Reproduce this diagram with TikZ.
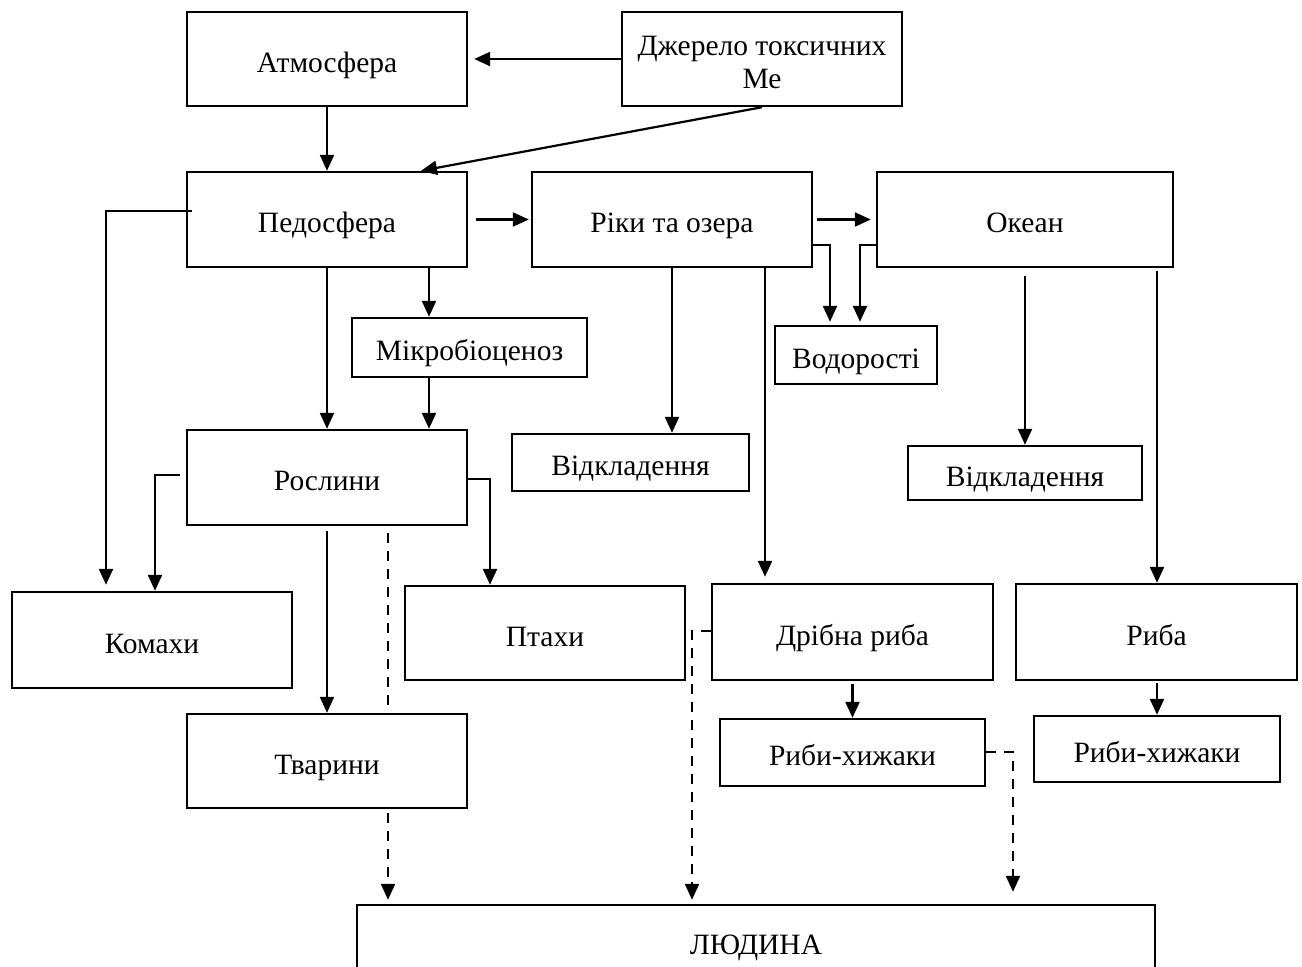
\documentclass[tikz,border=0pt]{standalone}
\usepackage{fontspec}
\setmainfont{Liberation Serif}
\usetikzlibrary{arrows.meta}
\begin{document}
\begin{tikzpicture}[x=1pt,y=-1pt,
  boxbase/.style={draw,line width=2.4pt,inner sep=0pt,align=center,font=\fontsize{29.5}{33}\selectfont},
  box/.style={boxbase,text height=26pt,text depth=0pt},
  arr/.style={line width=2.2pt,-{Triangle[length=16pt,width=14pt]}},
  dsh/.style={line width=2.2pt,dash pattern=on 10pt off 8pt},
  darr/.style={dsh,-{Triangle[length=16pt,width=14pt]}}]
\useasboundingbox (0,0) rectangle (1302,967);
\clip (0,0) rectangle (1302,967);
% boxes
\node[box,minimum width=280pt,minimum height=94pt] (atm) at (327,59) {Атмосфера};
\node[boxbase,minimum width=280pt,minimum height=94pt] (dzh) at (762,59) {\rule{0pt}{27pt}Джерело токсичних\\Ме};
\node[box,minimum width=280pt,minimum height=95pt] (ped) at (327,219.5) {Педосфера};
\node[box,minimum width=280pt,minimum height=95pt] (riky) at (672,219.5) {Ріки та озера};
\node[box,minimum width=296pt,minimum height=95pt] (okean) at (1025,219.5) {Океан};
\node[box,minimum width=235pt,minimum height=59pt] (mikro) at (469.5,347.5) {Мікробіоценоз};
\node[box,minimum width=162pt,minimum height=58pt] (vod) at (856,355) {Водорості};
\node[box,minimum width=237pt,minimum height=57pt] (vidkla) at (630.5,462.5) {Відкладення};
\node[box,minimum width=234pt,minimum height=54pt] (vidklb) at (1025,473) {Відкладення};
\node[box,minimum width=280pt,minimum height=95pt] (rosl) at (327,477.5) {Рослини};
\node[box,minimum width=280pt,minimum height=96pt] (komahy) at (152,640) {Комахи};
\node[box,minimum width=280pt,minimum height=94pt] (ptahy) at (545,633) {Птахи};
\node[box,minimum width=281pt,minimum height=96pt] (dribna) at (852.5,632) {Дрібна риба};
\node[box,minimum width=281pt,minimum height=96pt] (ryba) at (1156.5,632) {Риба};
\node[box,minimum width=280pt,minimum height=94pt] (tvar) at (327,761) {Тварини};
\node[box,minimum width=265pt,minimum height=67pt] (rhja) at (852.5,752.5) {Риби-хижаки};
\node[box,minimum width=246pt,minimum height=66pt] (rhjb) at (1157,749) {Риби-хижаки};
\node[box,minimum width=798pt,minimum height=72pt] (lyud) at (756,941) {ЛЮДИНА};
% connectors
\draw[arr,shorten >=6pt] (dzh.west) -- (atm.east);
\draw[arr] (atm.south) -- (ped.north);
\draw[arr] (dzh.south) -- (ped.north -| 421,0);
\draw[arr,shorten <=8pt,shorten >=2pt] (ped.east) -- (riky.west);
\draw[arr,shorten <=4pt,shorten >=5pt] (riky.east) -- (okean.west);
\draw[arr,shorten >=3pt] (riky.east |- 0,245) -| (vod.north -| 830,0);
\draw[arr,shorten >=3pt] (okean.west |- 0,245) -| (vod.north -| 860,0);
\draw[arr,shorten >=6pt] ([xshift=6pt]ped.west |- 0,211) -| (komahy.north -| 106,0);
\draw[arr] ([xshift=-6pt]rosl.west |- 0,475) -| (komahy.north -| 155,0);
\draw[arr] ([xshift=-2pt]rosl.east |- 0,479) -| (ptahy.north -| 490,0);
\draw[arr] (ped.south) -- (rosl.north);
\draw[arr] (ped.south -| 429,0) -- (mikro.north -| 429,0);
\draw[arr] (mikro.south -| 429,0) -- (rosl.north -| 429,0);
\draw[arr,shorten <=5pt] (rosl.south) -- (tvar.north);
\draw[dsh,shorten <=7pt] (rosl.south -| 388,0) -- (tvar.north -| 388,0);
\draw[darr,shorten <=4pt,shorten >=4pt] (tvar.south -| 388,0) -- (lyud.north -| 388,0);
\draw[arr] (riky.south -| 672,0) -- (vidkla.north -| 672,0);
\draw[arr,shorten >=6pt] (riky.south -| 765,0) -- (dribna.north -| 765,0);
\draw[darr,shorten >=4pt] (dribna.west |- 0,631) -| (lyud.north -| 692,0);
\draw[arr,shorten <=3pt] (dribna.south) -- (rhja.north);
\draw[darr,shorten >=12pt] (rhja.east |- 0,752) -| (lyud.north -| 1013,0);
\draw[arr,shorten <=8pt] (okean.south -| 1025,0) -- (vidklb.north -| 1025,0);
\draw[arr,shorten <=3pt] (okean.south -| 1157,0) -- (ryba.north -| 1157,0);
\draw[arr,shorten <=2pt] (ryba.south -| 1157,0) -- (rhjb.north -| 1157,0);
\end{tikzpicture}
\end{document}
